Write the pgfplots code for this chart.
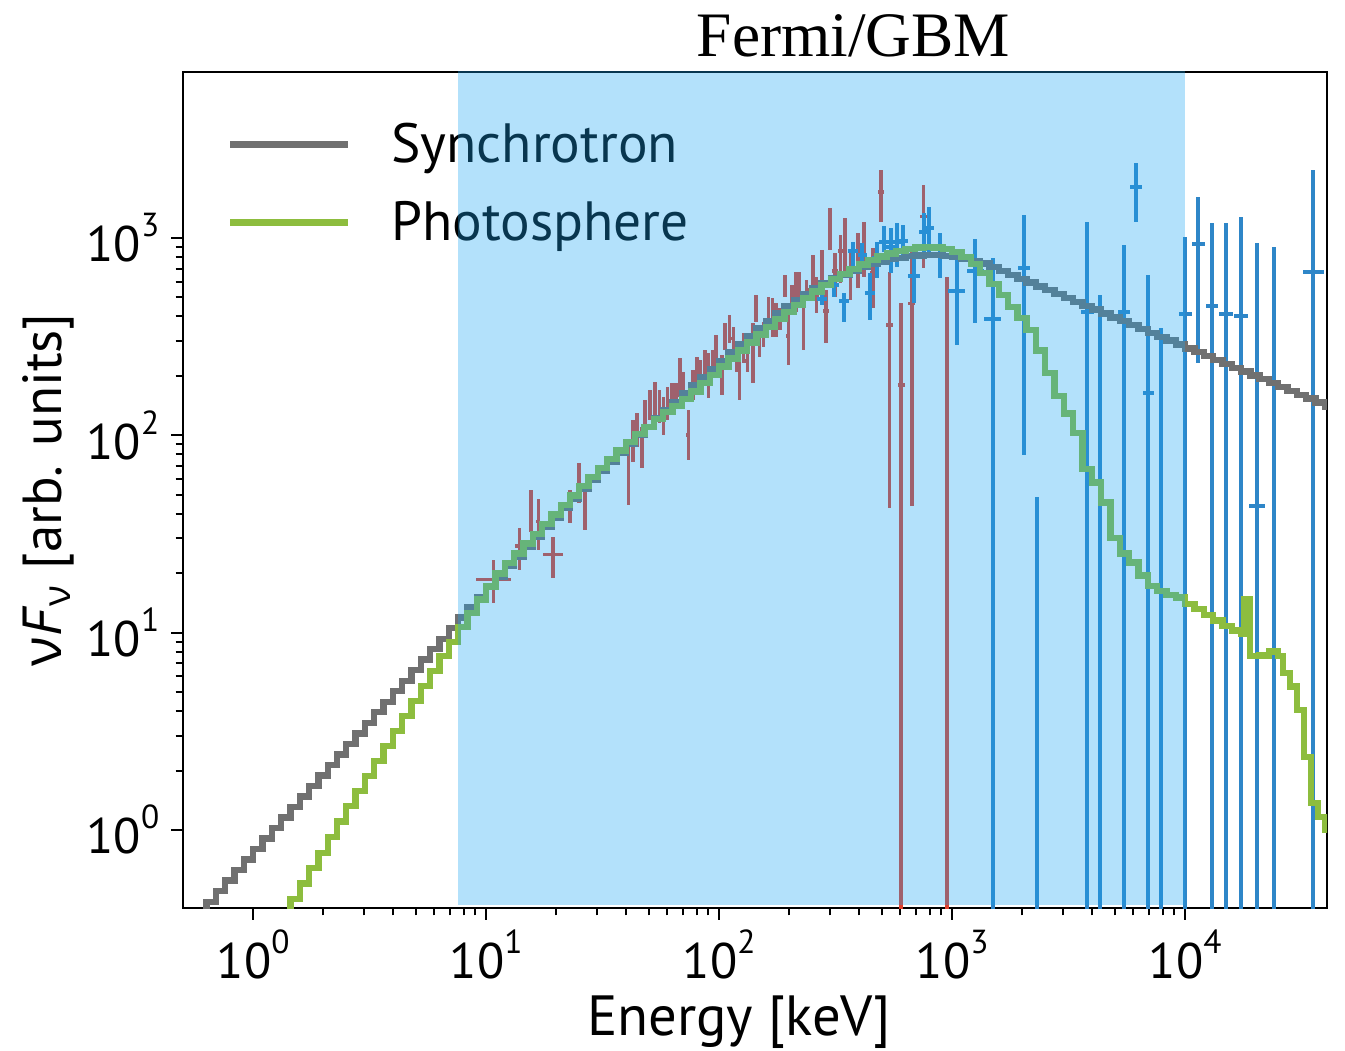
\documentclass[border=0pt]{standalone}
\usepackage{fontspec}
\setmainfont{PT Sans}
\newfontfamily\grk{Open Sans}
\newfontfamily\titlefont{Liberation Serif}
\usepackage{pgfplots}
\usepackage{pgfplotstable}
\pgfplotsset{compat=1.18}
\definecolor{synch}{RGB}{112,112,112}
\definecolor{photo}{RGB}{141,189,62}
\definecolor{datared}{RGB}{225,65,45}
\definecolor{datablue}{RGB}{46,134,200}
\definecolor{bandc}{RGB}{25,164,242}
\newcommand{\tp}[1]{10\raisebox{7.5pt}{\fontsize{10}{10}\selectfont #1}}

% log10(E/keV)  log10(nuFnu)
\pgfplotstableread{
lx ly
-0.32 -0.524
-0.28 -0.470
-0.24 -0.417
-0.20 -0.364
-0.16 -0.310
-0.12 -0.257
-0.08 -0.204
-0.04 -0.150
0.00 -0.097
0.04 -0.044
0.08 0.010
0.12 0.063
0.16 0.116
0.20 0.170
0.24 0.223
0.28 0.276
0.32 0.329
0.36 0.383
0.40 0.436
0.44 0.489
0.48 0.543
0.52 0.596
0.56 0.649
0.60 0.703
0.64 0.756
0.68 0.809
0.72 0.863
0.76 0.916
0.80 0.969
0.84 1.023
0.88 1.076
0.92 1.129
0.96 1.182
1.00 1.234
1.04 1.285
1.08 1.336
1.12 1.386
1.16 1.436
1.20 1.486
1.24 1.535
1.28 1.584
1.32 1.632
1.36 1.680
1.40 1.727
1.44 1.774
1.48 1.820
1.52 1.866
1.56 1.911
1.60 1.956
1.64 2.000
1.68 2.043
1.72 2.086
1.76 2.128
1.80 2.170
1.84 2.211
1.88 2.252
1.92 2.294
1.96 2.336
2.00 2.378
2.04 2.419
2.08 2.460
2.12 2.500
2.16 2.541
2.20 2.580
2.24 2.617
2.28 2.652
2.32 2.685
2.36 2.715
2.40 2.744
2.44 2.770
2.48 2.794
2.52 2.815
2.56 2.835
2.60 2.852
2.64 2.868
2.68 2.881
2.72 2.892
2.76 2.900
2.80 2.907
2.84 2.911
2.88 2.913
2.92 2.913
2.96 2.910
3.00 2.904
3.04 2.896
3.08 2.884
3.12 2.870
3.16 2.852
3.20 2.833
3.24 2.813
3.28 2.793
3.32 2.774
3.36 2.754
3.40 2.735
3.44 2.715
3.48 2.695
3.52 2.676
3.56 2.656
3.60 2.637
3.64 2.617
3.68 2.597
3.72 2.578
3.76 2.558
3.80 2.538
3.84 2.519
3.88 2.499
3.92 2.480
3.96 2.460
4.00 2.440
4.04 2.421
4.08 2.401
4.12 2.382
4.16 2.362
4.20 2.342
4.24 2.323
4.28 2.303
4.32 2.284
4.36 2.264
4.40 2.244
4.44 2.225
4.48 2.205
4.52 2.186
4.56 2.166
4.60 2.146
4.64 2.127
}\synchtab

\pgfplotstableread{
lx ly
0.08 -0.508
0.12 -0.429
0.16 -0.351
0.20 -0.272
0.24 -0.194
0.28 -0.116
0.32 -0.037
0.36 0.042
0.40 0.120
0.44 0.197
0.48 0.274
0.52 0.350
0.56 0.426
0.60 0.502
0.64 0.578
0.68 0.654
0.72 0.730
0.76 0.805
0.80 0.880
0.84 0.954
0.88 1.028
0.92 1.100
0.96 1.168
1.00 1.234
1.04 1.300
1.08 1.351
1.12 1.401
1.16 1.451
1.20 1.501
1.24 1.550
1.28 1.599
1.32 1.647
1.36 1.695
1.40 1.742
1.44 1.789
1.48 1.834
1.52 1.879
1.56 1.923
1.60 1.966
1.64 2.005
1.68 2.043
1.72 2.081
1.76 2.118
1.80 2.150
1.84 2.184
1.88 2.222
1.92 2.264
1.96 2.306
2.00 2.348
2.04 2.389
2.08 2.430
2.12 2.470
2.16 2.511
2.20 2.550
2.24 2.588
2.28 2.625
2.32 2.661
2.36 2.695
2.40 2.729
2.44 2.762
2.48 2.791
2.52 2.818
2.56 2.843
2.60 2.866
2.64 2.887
2.68 2.906
2.72 2.922
2.76 2.935
2.80 2.945
2.84 2.951
2.88 2.953
2.92 2.951
2.96 2.944
3.00 2.930
3.04 2.905
3.08 2.867
3.12 2.821
3.16 2.768
3.20 2.710
3.24 2.650
3.28 2.595
3.32 2.534
3.36 2.430
3.40 2.315
3.44 2.200
3.48 2.110
3.52 2.010
3.56 1.830
3.60 1.760
3.64 1.660
3.68 1.480
3.72 1.400
3.76 1.355
3.80 1.290
3.84 1.235
3.88 1.210
3.92 1.192
3.96 1.178
4.00 1.145
4.04 1.120
4.08 1.090
4.12 1.062
4.16 1.035
4.20 1.010
4.24 0.996
4.253 1.170
4.279 0.880
4.32 0.884
4.36 0.905
4.40 0.880
4.42 0.794
4.45 0.726
4.48 0.608
4.51 0.371
4.54 0.135
4.57 0.067
4.60 -0.001
4.64 -0.020
}\phototab

% log10 E, log10 flux, log10 lower, log10 upper, half bin width (log10)
\pgfplotstableread{
lx ly lo hi dx
1.031 1.270 1.149 1.368 0.075
1.143 1.439 1.317 1.529 0.021
1.193 1.626 1.511 1.723 0.008
1.224 1.562 1.419 1.677 0.008
1.286 1.397 1.275 1.486 0.043
1.361 1.657 1.554 1.723 0.008
1.398 1.763 1.655 1.861 0.008
1.424 1.672 1.520 1.739 0.008
1.611 1.824 1.647 1.942 0.008
1.630 1.971 1.866 2.078 0.008
1.648 2.027 1.942 2.112 0.008
1.668 1.938 1.833 2.044 0.008
1.682 2.082 1.985 2.179 0.008
1.704 2.154 2.078 2.230 0.008
1.725 2.175 2.078 2.272 0.008
1.744 2.145 2.061 2.230 0.008
1.761 2.098 2.001 2.196 0.008
1.778 2.162 2.078 2.246 0.008
1.797 2.192 2.120 2.264 0.008
1.815 2.213 2.162 2.264 0.008
1.833 2.293 2.196 2.390 0.008
1.847 2.233 2.145 2.322 0.008
1.868 2.001 1.875 2.128 0.008
1.887 2.255 2.179 2.331 0.008
1.904 2.331 2.264 2.398 0.008
1.921 2.297 2.213 2.382 0.008
1.940 2.352 2.272 2.433 0.008
1.954 2.302 2.189 2.416 0.008
1.973 2.365 2.297 2.433 0.008
1.987 2.402 2.297 2.508 0.008
2.012 2.305 2.204 2.407 0.008
2.026 2.500 2.433 2.568 0.008
2.044 2.538 2.467 2.610 0.008
2.061 2.491 2.433 2.550 0.008
2.076 2.394 2.322 2.466 0.008
2.087 2.318 2.179 2.458 0.008
2.104 2.441 2.365 2.517 0.008
2.121 2.377 2.322 2.433 0.008
2.145 2.416 2.264 2.568 0.008
2.159 2.643 2.576 2.711 0.008
2.173 2.458 2.399 2.517 0.008
2.190 2.512 2.449 2.576 0.008
2.212 2.618 2.534 2.702 0.008
2.230 2.597 2.500 2.694 0.008
2.245 2.584 2.500 2.669 0.008
2.262 2.589 2.534 2.644 0.008
2.283 2.757 2.702 2.813 0.008
2.297 2.504 2.357 2.652 0.008
2.312 2.690 2.618 2.763 0.008
2.330 2.728 2.626 2.830 0.008
2.345 2.745 2.661 2.830 0.008
2.362 2.559 2.433 2.686 0.008
2.376 2.736 2.686 2.787 0.008
2.402 2.833 2.753 2.914 0.008
2.419 2.711 2.618 2.804 0.008
2.441 2.830 2.720 2.940 0.008
2.459 2.630 2.466 2.736 0.012
2.476 3.045 2.940 3.151 0.008
2.498 2.833 2.702 2.923 0.012
2.522 2.934 2.770 3.015 0.012
2.541 2.956 2.813 3.100 0.008
2.565 2.804 2.686 2.923 0.008
2.597 2.884 2.745 3.024 0.008
2.622 2.943 2.804 3.083 0.008
2.660 2.824 2.644 2.948 0.012
2.695 3.232 3.083 3.345 0.012
2.731 2.559 1.632 2.829 0.015
2.781 2.255 -2.000 2.669 0.015
2.827 2.669 1.642 2.948 0.015
2.877 3.108 2.846 3.269 0.015
2.977 -1.000 -2.000 2.804 0.015
}\nairtab

\pgfplotstableread{
lx ly lo hi dx
2.441 2.691 2.659 2.726 0.021
2.494 2.762 2.702 2.812 0.021
2.536 2.678 2.576 2.719 0.021
2.576 2.935 2.829 2.981 0.021
2.615 2.914 2.863 2.973 0.021
2.648 2.720 2.585 2.821 0.021
2.679 2.899 2.796 2.981 0.021
2.709 2.981 2.931 3.061 0.021
2.737 2.953 2.821 3.049 0.021
2.765 2.981 2.855 3.074 0.021
2.791 2.986 2.889 3.066 0.021
2.837 2.807 2.669 2.956 0.027
2.880 3.032 2.923 3.125 0.021
2.903 3.052 2.923 3.159 0.021
2.946 2.914 2.796 3.024 0.021
3.020 2.733 2.458 2.889 0.036
3.099 2.834 2.568 2.993 0.037
3.175 2.589 -2.000 2.900 0.036
3.309 2.846 1.900 3.118 0.026
3.364 -1.000 -2.000 1.689 0.020
3.581 2.626 -2.000 3.082 0.026
3.635 -1.000 -2.000 2.711 0.020
3.738 2.626 -2.000 2.966 0.026
3.790 3.257 3.083 3.379 0.025
3.842 2.216 -2.000 2.811 0.024
3.896 -1.000 -2.000 2.542 0.020
4.001 2.614 -2.000 3.007 0.027
4.057 2.968 2.365 3.209 0.027
4.115 2.657 -2.000 3.074 0.027
4.176 2.614 -2.000 3.078 0.030
4.240 2.605 -2.000 3.108 0.030
4.309 1.642 -2.000 2.976 0.034
4.383 -1.000 -2.000 2.956 0.020
4.551 2.829 -2.000 3.345 0.044
}\bgotab

\begin{document}
\begin{tikzpicture}
\begin{axis}[
  at={(0pt,0pt)}, anchor=south west,
  scale only axis, width=343.2pt, height=250.8pt,
  xmode=log, ymode=log,
  xmin=0.5, xmax=40650, ymin=0.402, ymax=6937,
  xtick={1,10,100,1000,10000},
  xticklabels={\tp{0},\tp{1},\tp{2},\tp{3},\tp{4}},
  ytick={1,10,100,1000},
  yticklabels={\tp{0},\tp{1},\tp{2},\tp{3}},
  tick align=outside, xtick pos=bottom, ytick pos=left,
  major tick length=3.6pt, minor tick length=2.2pt,
  every tick/.style={black, line width=0.6pt},
  axis line style={line width=0.7pt},
  ticklabel style={font=\fontsize{15}{15}\selectfont},
  xticklabel style={anchor=base, yshift=-17.7pt},
  yticklabel style={anchor=east},
  xlabel={Energy [keV]},
  xlabel style={font=\fontsize{17}{17}\selectfont, at={(axis description cs:0.486,-0.152)}, anchor=base},
  ylabel={{\grk ν}\textit{F}\textsubscript{\grk ν} [arb. units]},
  ylabel style={font=\fontsize{16.5}{16.5}\selectfont, at={(axis description cs:-0.106,0.5)}, anchor=base},
  title={Fermi/GBM},
  every axis title shift=0pt,
  title style={font=\titlefont\fontsize{19}{19}\selectfont, at={(axis description cs:0.586,1.018)}, anchor=base, yshift=0pt},
  legend style={draw=none, fill=none, at={(axis description cs:0.0384,0.937)}, anchor=north west,
    inner sep=0pt, outer sep=0pt, row sep=8.4pt, column sep=0pt,
    font=\fontsize{16.6}{16.6}\selectfont,
    nodes={inner sep=0pt, outer sep=0pt, text height=11.5pt, text depth=3.5pt}},
  legend cell align=left,
  legend image code/.code={\draw[#1, line width=2.1pt] (0pt,1.5pt) -- (35.4pt,1.5pt); \path[draw=none] (0pt,1.5pt) -- (48.3pt,1.5pt);},
]
\addplot[forget plot, draw=none, mark=none,
  error bars/.cd, x dir=both, x explicit, y dir=both, y explicit, error mark=none,
  error bar style={draw=datared, line width=1.05pt}]
  table[x expr=10^\thisrow{lx}, y expr=10^\thisrow{ly},
    x error plus expr=10^(\thisrow{lx}+\thisrow{dx})-10^\thisrow{lx},
    x error minus expr=10^\thisrow{lx}-10^(\thisrow{lx}-\thisrow{dx}),
    y error plus expr=10^\thisrow{hi}-10^\thisrow{ly},
    y error minus expr=10^\thisrow{ly}-10^\thisrow{lo}] {\nairtab};
\addplot[forget plot, draw=none, mark=none,
  error bars/.cd, x dir=both, x explicit, y dir=both, y explicit, error mark=none,
  error bar style={draw=datablue, line width=1.2pt}]
  table[x expr=10^\thisrow{lx}, y expr=10^\thisrow{ly},
    x error plus expr=10^(\thisrow{lx}+\thisrow{dx})-10^\thisrow{lx},
    x error minus expr=10^\thisrow{lx}-10^(\thisrow{lx}-\thisrow{dx}),
    y error plus expr=10^\thisrow{hi}-10^\thisrow{ly},
    y error minus expr=10^\thisrow{ly}-10^\thisrow{lo}] {\bgotab};
\addplot[const plot, synch, line width=1.9pt, mark=none]
  table[x expr=10^\thisrow{lx}, y expr=10^\thisrow{ly}] {\synchtab};
\addplot[const plot, photo, line width=1.9pt, mark=none]
  table[x expr=10^\thisrow{lx}, y expr=10^\thisrow{ly}] {\phototab};
\legend{Synchrotron, Photosphere}
\end{axis}
\begin{axis}[
  at={(0pt,0pt)}, anchor=south west,
  scale only axis, width=343.2pt, height=250.8pt,
  xmode=log, ymode=log,
  xmin=0.5, xmax=40650, ymin=0.402, ymax=6937,
  hide axis]
\addplot[draw=none, fill=bandc, fill opacity=0.33, mark=none]
  coordinates {(7.6,0.416) (10000,0.416) (10000,100000) (7.6,100000)} -- cycle;
\end{axis}
\pgfresetboundingbox
\path[use as bounding box] (-54.9pt,-42.9pt) rectangle (348.6pt,272.4pt);
\end{tikzpicture}
\end{document}
